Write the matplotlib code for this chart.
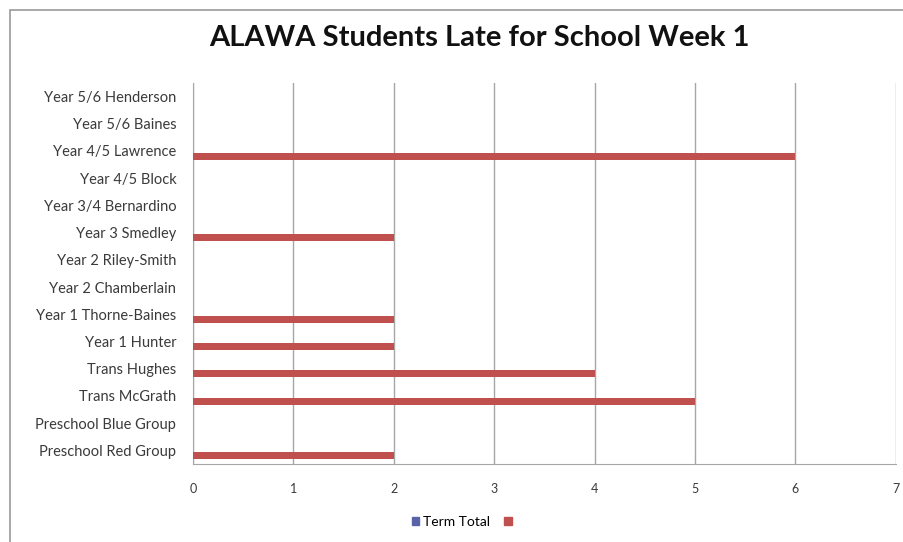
import matplotlib

matplotlib.use("Agg")
import matplotlib.pyplot as plt  # noqa: E402
import numpy as np  # noqa: E402
from matplotlib.patches import Patch, Rectangle  # noqa: E402

plt.rcParams["font.family"] = ["Lato", "DejaVu Sans"]

CLASSES = [
    "Year 5/6 Henderson", "Year 5/6 Baines", "Year 4/5 Lawrence", "Year 4/5 Block",
    "Year 3/4 Bernardino", "Year 3 Smedley", "Year 2 Riley-Smith", "Year 2 Chamberlain",
    "Year 1 Thorne-Baines", "Year 1 Hunter", "Trans Hughes", "Trans McGrath",
    "Preschool Blue Group", "Preschool Red Group",
]
TERM_TOTAL = [0] * len(CLASSES)
WEEK1 = [0, 0, 6, 0, 0, 2, 0, 0, 2, 2, 4, 5, 0, 2]
XTICKS = [0, 1, 2, 3, 4, 5, 6, 7]

BLUE = "#5b63a8"
RED = "#c0504d"
GRID = "#a6a6a6"
TXT = "#3a3a3a"

fig = plt.figure(figsize=(9.04, 5.42), dpi=100)
ax = fig.add_axes([0.2135, 0.144, 0.7775, 0.703])

y = np.arange(len(CLASSES))
h = 0.26
ax.barh(y - 0.19, TERM_TOTAL, height=h, color=BLUE, zorder=3)
ax.barh(y + 0.19, WEEK1, height=h, color=RED, zorder=3)

ax.set_ylim(len(CLASSES) - 0.5, -0.5)
ax.set_xlim(0, 7)
ax.set_xticks(XTICKS)
ax.set_yticks(y)
ax.set_yticklabels(CLASSES, fontsize=10.5, color=TXT)
ax.tick_params(axis="x", labelsize=9, colors=TXT, length=0, pad=14)
ax.tick_params(axis="y", length=0, pad=12)
ax.grid(True, axis="x", color=GRID, lw=1, zorder=0)
for side in ["top", "right"]:
    ax.spines[side].set_visible(False)
ax.spines["left"].set_color(GRID)
ax.spines["bottom"].set_color(GRID)

fig.text(0.53, 0.929, "ALAWA Students Late for School Week 1", ha="center",
         va="center", fontsize=21, fontweight="bold", color="#111111")

handles = [Patch(color=BLUE, label="Term Total"), Patch(color=RED, label=" ")]
fig.legend(handles=handles, loc="center", bbox_to_anchor=(0.515, 0.037), ncol=2,
           frameon=False, fontsize=10, handlelength=0.55, handleheight=0.55,
           handletextpad=0.3, columnspacing=1.0)

# chart-area border
fig.patches.append(Rectangle((0.011, -0.05), 1.2, 1.032, transform=fig.transFigure,
                             fill=False, edgecolor="#9a9a9a", lw=1.2))

fig.savefig("out.png", dpi=100)
